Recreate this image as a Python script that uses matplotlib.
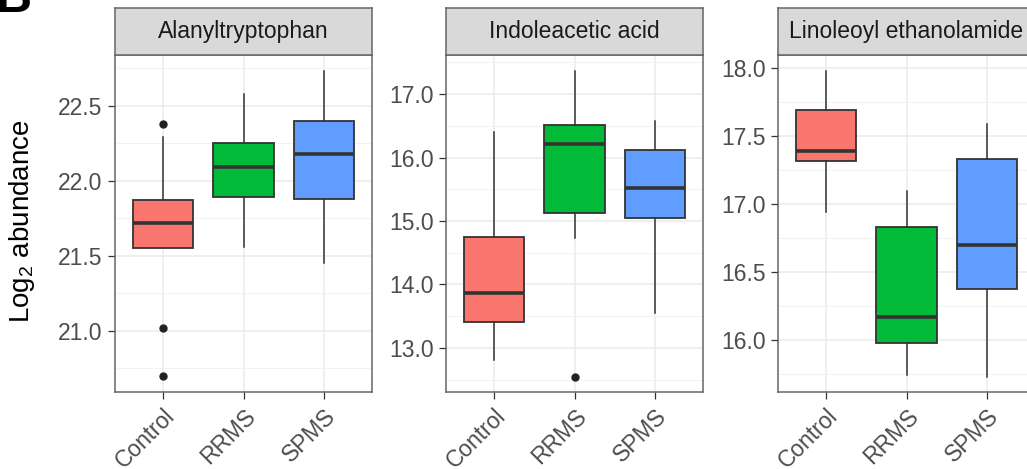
import matplotlib.pyplot as plt
from matplotlib.ticker import MultipleLocator, FormatStrFormatter

plt.rcParams['font.family'] = ['Liberation Sans', 'DejaVu Sans']
plt.rcParams['mathtext.default'] = 'regular'

groups = ['Control', 'RRMS', 'SPMS']
colors = ['#F8766D', '#00BA38', '#619CFF']
titles = ['Alanyltryptophan', 'Indoleacetic acid', 'Linoleoyl ethanolamide']

# five-number summaries per group: whisker low, Q1, median, Q3, whisker high
ala_stats = [[21.55, 21.55, 21.72, 21.87, 22.29],
             [21.555, 21.89, 22.09, 22.25, 22.58],
             [21.45, 21.88, 22.18, 22.40, 22.73]]
ala_fliers = [[22.38, 21.02, 20.70], [], []]

iaa_stats = [[12.81, 13.41, 13.86, 14.745, 16.40],
             [14.73, 15.12, 16.21, 16.51, 17.36],
             [13.55, 15.04, 15.52, 16.12, 16.58]]
iaa_fliers = [[], [12.54], []]

lea_stats = [[16.94, 17.316, 17.39, 17.69, 17.978],
             [15.74, 15.98, 16.17, 16.83, 17.096],
             [15.73, 16.375, 16.70, 17.33, 17.59]]
lea_fliers = [[], [], []]

panels = [
    (ala_stats, ala_fliers, (20.59, 22.84), 0.5),
    (iaa_stats, iaa_fliers, (12.306, 17.615), 1.0),
    (lea_stats, lea_fliers, (15.618, 18.096), 0.5),
]

W, H = 1027, 469
fig = plt.figure(figsize=(W / 100, H / 100), dpi=100)

lefts = [115, 446, 778]
pw = 257
top, bot = 55, 392
strip_top = 8

for i, (stats, fliers, ylim, step) in enumerate(panels):
    ax = fig.add_axes([lefts[i] / W, (H - bot) / H, pw / W, (bot - top) / H])
    bxp_stats = []
    for g, s, fl in zip(groups, stats, fliers):
        bxp_stats.append(dict(label=g, whislo=s[0], q1=s[1], med=s[2], q3=s[3],
                              whishi=s[4], fliers=fl))
    res = ax.bxp(bxp_stats, positions=[1, 2, 3], widths=0.75, patch_artist=True,
                 showcaps=False,
                 boxprops=dict(edgecolor='#333333', linewidth=1.3),
                 medianprops=dict(color='#333333', linewidth=2.6),
                 whiskerprops=dict(color='#333333', linewidth=1.1),
                 flierprops=dict(marker='o', markersize=5, markerfacecolor='#222222',
                                 markeredgecolor='#222222'))
    for patch, c in zip(res['boxes'], colors):
        patch.set_facecolor(c)
    ax.set_xlim(0.4, 3.6)
    ax.set_ylim(*ylim)
    ax.yaxis.set_major_locator(MultipleLocator(step))
    ax.yaxis.set_minor_locator(MultipleLocator(step / 2))
    ax.yaxis.set_major_formatter(FormatStrFormatter('%.1f'))
    ax.grid(True, which='major', color='#EBEBEB', linewidth=1.1)
    ax.grid(True, which='minor', axis='y', color='#F2F2F2', linewidth=0.7)
    ax.set_axisbelow(True)
    ax.tick_params(axis='both', which='major', direction='out', length=5, width=0.9,
                   color='#333333', labelcolor='#4D4D4D', labelsize=16.5, pad=4)
    ax.tick_params(axis='y', which='minor', length=0)
    ax.set_xticks([1, 2, 3])
    ax.set_xticklabels(groups, rotation=45, ha='right', va='top',
                       rotation_mode='anchor')
    for sp in ax.spines.values():
        sp.set_color('#666666')
        sp.set_linewidth(1.1)

    sax = fig.add_axes([lefts[i] / W, (H - top) / H, pw / W, (top - strip_top) / H])
    sax.set_facecolor('#D9D9D9')
    sax.set_xticks([])
    sax.set_yticks([])
    for sp in sax.spines.values():
        sp.set_color('#666666')
        sp.set_linewidth(1.1)
    sax.text(0.5, 0.5, titles[i], transform=sax.transAxes, ha='center', va='center',
             fontsize=16.5, color='#1A1A1A')

fig.text(22 / W, 1 - 221 / H, 'Log$_2$ abundance', rotation=90, ha='center',
         va='center', fontsize=20, color='#000000')
fig.text(-0.004, 1 - 12 / H, 'B', fontsize=36, fontweight='bold', va='baseline',
         ha='left')

fig.savefig('out.png', dpi=100)
